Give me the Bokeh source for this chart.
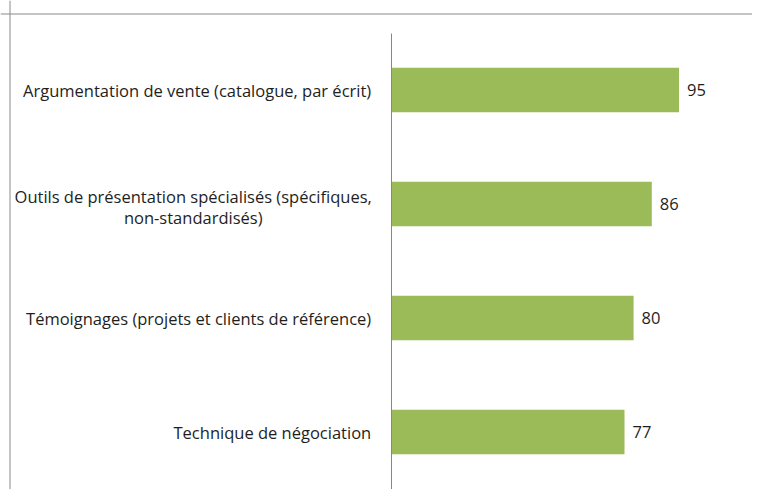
from bokeh.plotting import figure
from bokeh.models import Range1d, FixedTicker, Span
from bokeh.core.properties import value
from bokeh.embed import file_html
from bokeh.resources import INLINE

categories = [
    "Argumentation de vente (catalogue, par écrit)",
    "Outils de présentation spécialisés (spécifiques,\nnon-standardisés)",
    "Témoignages (projets et clients de référence)",
    "Technique de négociation",
]
values = [95, 86, 80, 77]

FONT = "Open Sans"
FSIZE = "16.5px"
W, H = 752, 489
n = len(categories)
pos = [n - 1 - i for i in range(n)]  # top category first

# layout (canvas pixels)
zero_px = 390.7
px_per_unit = 3.03
band_px = 114.0
bottom_center_px = 431.5

x_start = -zero_px / px_per_unit
x_end = (W - zero_px) / px_per_unit
y_start = -(H - bottom_center_px) / band_px
y_end = bottom_center_px / band_px

p = figure(width=W, height=H, output_backend="svg", toolbar_location=None,
           x_range=Range1d(x_start, x_end), y_range=Range1d(y_start, y_end),
           x_axis_location=None, min_border=0, min_border_left=0,
           min_border_right=0, min_border_top=0, min_border_bottom=0)
p.outline_line_color = None
p.xgrid.visible = False
p.ygrid.visible = False
p.background_fill_color = "white"
p.border_fill_color = "white"

p.hbar(y=pos, left=0, right=values, height=0.39,
       fill_color="#9BBB59", line_color=None)

multi = [(pp, c) for pp, c in zip(pos, categories) if "\n" in c]

ax = p.yaxis[0]
ax.fixed_location = 0
ax.bounds = (-0.5, n - 0.5)
ax.ticker = FixedTicker(ticks=pos)
ax.major_label_overrides = {float(pp): (c if "\n" not in c else "")
                            for pp, c in zip(pos, categories)}
ax.major_tick_line_color = None
ax.minor_tick_line_color = None
ax.axis_line_color = "#868686"
ax.axis_line_width = 1
ax.major_label_standoff = 14
ax.major_label_text_font = FONT
ax.major_label_text_font_size = FSIZE
ax.major_label_text_color = "#1e1e1e"

# wrapped category label, lines centred on each other
p.text(x=[0] * len(multi), y=[m[0] for m in multi], text=[m[1] for m in multi],
       x_offset=-198, y_offset=3, text_align="center", text_baseline="middle",
       text_font_size=FSIZE, text_color="#1e1e1e", text_font=value(FONT),
       text_line_height=0.92)

# value labels
p.text(x=values, y=pos, text=[str(v) for v in values], x_offset=8,
       text_align="left", text_baseline="middle", text_font_size=FSIZE,
       text_color="#1e1e1e", text_font=value(FONT))

# outer chart border (top and left edges)
p.add_layout(Span(location=x_start + 9.5 / px_per_unit, dimension="height",
                  line_color="#8a8a8a", line_width=1))
p.add_layout(Span(location=y_end - 13.5 / band_px, dimension="width",
                  line_color="#8a8a8a", line_width=1))

open("out.html", "w").write(file_html(p, INLINE))
